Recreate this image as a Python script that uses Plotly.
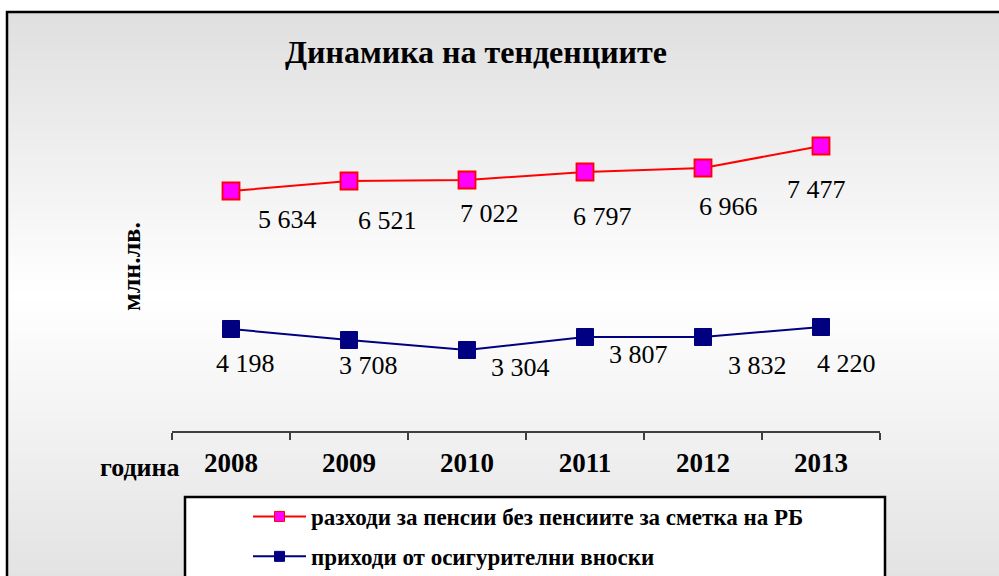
import plotly.graph_objects as go

# ---------------- data ----------------
years = ["2008", "2009", "2010", "2011", "2012", "2013"]
# data labels shown on the chart (mln. BGN)
pension_exp_labels = [5634, 6521, 7022, 6797, 6966, 7477]
contrib_rev_labels = [4198, 3708, 3304, 3807, 3832, 4220]
# plotted levels of the two lines (hidden axis)
pension_exp_level = [240, 250, 251, 259, 263, 285]
contrib_rev_level = [102, 91, 81, 94, 94, 104]

series_names = ["разходи за пенсии без пенсиите за сметка на РБ",
                "приходи от осигурителни вноски"]
title_text = "Динамика на тенденциите"
y_title = "млн.лв."
x_title = "година"

# label offsets in pixels (dx right, dy down) – styling only
red_off = [(56, 28), (38, 39), (22, 33), (17, 44), (25, 38), (-5, 43)]
blue_off = [(14, 34), (19, 25), (53, 17), (53, 17), (54, 28), (25, 36)]

W, H = 999, 576
SERIF = "Liberation Serif"
RED = "#ff0000"
MAGENTA = "#ff00ff"
NAVY = "#000080"


def fx(px):
    return px / W


def fy(py):
    return 1 - py / H


def fmt(v):
    return f"{v:,}".replace(",", " ")


fig = go.Figure()

fig.add_trace(go.Scatter(
    x=years, y=pension_exp_level, mode="lines+markers", showlegend=False,
    line=dict(color=RED, width=2),
    marker=dict(symbol="square", size=17, color=MAGENTA, line=dict(color=RED, width=1.8)),
    hoverinfo="skip"))
fig.add_trace(go.Scatter(
    x=years, y=contrib_rev_level, mode="lines+markers", showlegend=False,
    line=dict(color=NAVY, width=2),
    marker=dict(symbol="square", size=17, color=NAVY, line=dict(color=NAVY, width=1)),
    hoverinfo="skip"))

# legend-only entries (smaller markers as in the reference)
fig.add_trace(go.Scatter(
    x=[None], y=[None], mode="lines+markers", name=series_names[0], legendgroup="a",
    line=dict(color=RED, width=2),
    marker=dict(symbol="square", size=10, color=MAGENTA, line=dict(color=RED, width=1))))
fig.add_trace(go.Scatter(
    x=[None], y=[None], mode="lines+markers", name=series_names[1], legendgroup="b",
    line=dict(color=NAVY, width=2),
    marker=dict(symbol="square", size=10, color=NAVY, line=dict(color=NAVY, width=1))))

annotations = []
for i, yr in enumerate(years):
    dx, dy = red_off[i]
    annotations.append(dict(x=i, y=pension_exp_level[i], xref="x", yref="y",
                            text=fmt(pension_exp_labels[i]), showarrow=False,
                            xshift=dx, yshift=-dy,
                            font=dict(family=SERIF, size=26, color="black")))
    dx, dy = blue_off[i]
    annotations.append(dict(x=i, y=contrib_rev_level[i], xref="x", yref="y",
                            text=fmt(contrib_rev_labels[i]), showarrow=False,
                            xshift=dx, yshift=-dy,
                            font=dict(family=SERIF, size=26, color="black")))

# "година" label
annotations.append(dict(x=fx(140), y=fy(467), xref="paper", yref="paper",
                        text=x_title, showarrow=False, xanchor="center", yanchor="middle",
                        font=dict(family=SERIF, size=26, color="black", weight="bold")))
# y-axis title
annotations.append(dict(x=fx(131), y=fy(267), xref="paper", yref="paper",
                        text=y_title, showarrow=False, textangle=-90,
                        xanchor="center", yanchor="middle",
                        font=dict(family=SERIF, size=26, color="black", weight="bold")))

shapes = []
# vertical gradient background (styling)
top, mid, bot = 12, 295, 576
c_top, c_mid, c_bot = 223, 255, 227
step = 4
y0 = top
while y0 < bot:
    y1 = min(y0 + step, bot)
    yc = (y0 + y1) / 2
    if yc <= mid:
        c = c_top + (c_mid - c_top) * (yc - top) / (mid - top)
    else:
        c = c_mid + (c_bot - c_mid) * (yc - mid) / (bot - mid)
    c = int(round(c))
    shapes.append(dict(type="rect", xref="paper", yref="paper", layer="below",
                       x0=fx(7), x1=1.01, y0=fy(y0), y1=fy(y1 + 0.5),
                       line=dict(width=0), fillcolor=f"rgb({c},{c},{c})"))
    y0 = y1
# outer border
shapes.append(dict(type="rect", xref="paper", yref="paper", layer="above",
                   x0=fx(7), x1=1.05, y0=fy(12), y1=-0.05,
                   line=dict(color="black", width=2.5), fillcolor="rgba(0,0,0,0)"))
# legend box
shapes.append(dict(type="rect", xref="paper", yref="paper", layer="below",
                   x0=fx(185), x1=fx(885), y0=fy(497), y1=-0.1,
                   line=dict(color="black", width=2.5), fillcolor="white"))

fig.update_layout(
    width=W, height=H, autosize=False,
    margin=dict(l=0, r=0, t=0, b=0, autoexpand=False),
    paper_bgcolor="white", plot_bgcolor="rgba(0,0,0,0)",
    title=dict(text=title_text, x=fx(476), y=fy(52), xanchor="center", yanchor="middle",
               xref="paper", yref="paper",
               font=dict(family=SERIF, size=32, color="black", weight="bold")),
    xaxis=dict(domain=[fx(172), fx(880)], type="category", range=[-0.5, 5.5],
               showline=True, linecolor="#404040", linewidth=1.5,
               ticks="outside", tickson="boundaries", ticklen=7, tickcolor="#404040",
               tickwidth=1.5, showgrid=False, zeroline=False,
               ticklabelstandoff=7,
               tickfont=dict(family=SERIF, size=27, color="black", weight="bold"),
               fixedrange=True),
    yaxis=dict(domain=[fy(431), fy(100)], range=[0, 331], visible=False, fixedrange=True),
    legend=dict(x=fx(248), y=fy(495), xanchor="left", yanchor="top",
                bgcolor="rgba(0,0,0,0)", borderwidth=0,
                traceorder="grouped", tracegroupgap=7, itemwidth=53,
                font=dict(family=SERIF, size=23, color="black", weight="bold")),
    annotations=annotations,
    shapes=shapes,
    showlegend=True,
)

fig.write_html("out.html", config={"displayModeBar": False},
               post_script="document.body.style.margin='0';")
